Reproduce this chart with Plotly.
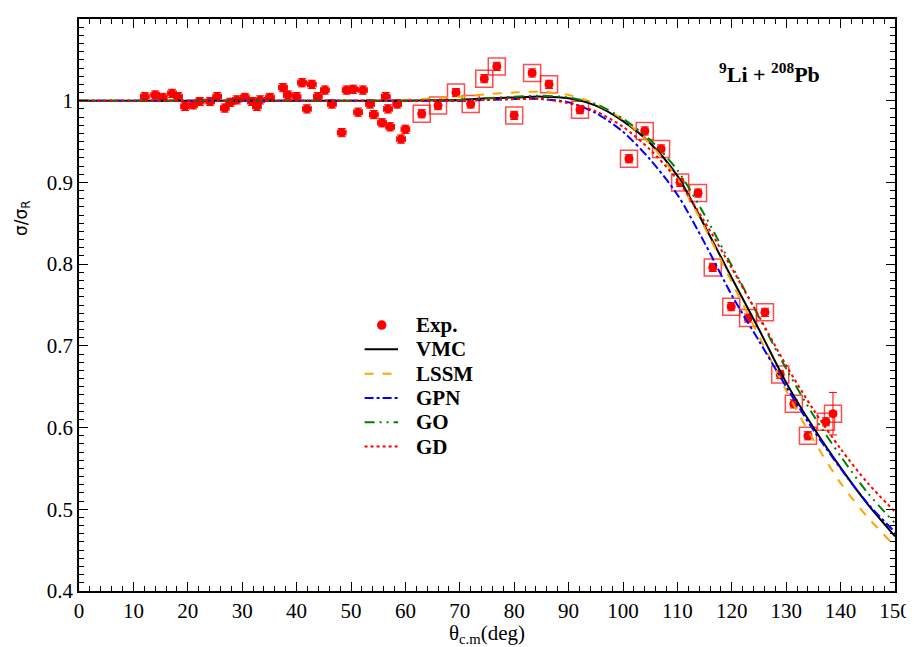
import plotly.graph_objects as go

# experimental points, small angles (error bars only)
theta_small = [12.1, 14.0, 15.4, 17.1, 18.2, 19.5, 21.0, 22.2, 24.1, 25.4, 26.8, 27.8, 29.0,
               30.5, 31.8, 32.7, 33.3, 35.1, 37.5, 38.4, 40.0, 41.0, 41.9, 42.8, 43.9, 45.2,
               46.5, 48.3, 49.2, 50.4, 51.3, 52.2, 53.5, 54.2, 55.7, 56.4, 56.8, 57.2, 58.5,
               59.2, 60.0]
sigma_small = [1.005, 1.007, 1.004, 1.009, 1.005, 0.993, 0.995, 0.999, 0.999, 1.005, 0.991, 0.998, 1.001,
               1.004, 0.999, 0.993, 1.001, 1.004, 1.016, 1.007, 1.005, 1.022, 0.990, 1.020, 1.005, 1.013,
               0.996, 0.961, 1.013, 1.014, 0.986, 1.013, 0.996, 0.983, 0.973, 1.005, 0.990, 0.968, 0.996,
               0.953, 0.965]

# experimental points, larger angles (with boxes)
theta_large = [63.0, 66.0, 69.3, 72.0, 74.5, 76.8, 80.0, 83.3, 86.4, 92.1, 101.1, 104.0, 107.0,
               110.5, 113.8, 116.5, 119.9, 123.0, 126.1, 128.9, 131.4, 134.0, 137.3, 138.6]
sigma_large = [0.984, 0.994, 1.010, 0.996, 1.027, 1.042, 0.982, 1.034, 1.020, 0.989, 0.929, 0.963, 0.941,
               0.900, 0.887, 0.796, 0.748, 0.734, 0.741, 0.665, 0.629, 0.590, 0.607, 0.617]
dsigma_large = [0.005, 0.005, 0.005, 0.005, 0.005, 0.005, 0.005, 0.005, 0.005, 0.005, 0.005, 0.005, 0.005,
                0.005, 0.005, 0.005, 0.005, 0.005, 0.005, 0.005, 0.005, 0.005, 0.005, 0.026]

# calculations
theta_calc = [0, 10, 20, 30, 40, 50, 55, 60, 65, 70, 75, 80, 85, 90, 95, 100, 105, 110, 115,
              120, 125, 130, 135, 140, 145, 150]
vmc = [1.0, 1.0, 1.0, 1.0, 1.0, 1.0, 1.0, 1.0, 1.0005, 1.001, 1.003, 1.004, 1.005, 1.003, 0.994, 0.975,
       0.948, 0.908, 0.847, 0.783, 0.720, 0.655, 0.600, 0.551, 0.506, 0.467]
lssm = [1.0, 1.0, 1.0, 1.0, 1.0, 1.0, 1.0, 1.001, 1.003, 1.005, 1.008, 1.010, 1.011, 1.007, 0.996, 0.977,
        0.947, 0.905, 0.845, 0.778, 0.712, 0.645, 0.585, 0.532, 0.490, 0.455]
gpn = [1.0, 1.0, 1.0, 1.0, 1.0, 1.0, 1.0, 1.0, 1.0, 1.0, 1.001, 1.002, 1.002, 0.998, 0.985, 0.962,
       0.928, 0.885, 0.826, 0.762, 0.706, 0.650, 0.597, 0.550, 0.507, 0.472]
gom = [1.0, 1.0, 1.0, 1.0, 1.0, 1.0, 1.0, 1.0, 1.0005, 1.001, 1.003, 1.005, 1.006, 1.004, 0.996, 0.978,
       0.952, 0.915, 0.860, 0.798, 0.735, 0.672, 0.615, 0.565, 0.520, 0.483]
gd = [1.0, 1.0, 1.0, 1.0, 1.0, 1.0, 1.0, 1.0, 1.0, 1.0, 1.001, 1.002, 1.002, 0.997, 0.987, 0.968,
      0.940, 0.903, 0.852, 0.795, 0.736, 0.676, 0.622, 0.574, 0.532, 0.497]

y_ticks = [0.4, 0.5, 0.6, 0.7, 0.8, 0.9, 1.0, 1.1]
y_ticklabels = ["0.4", "0.5", "0.6", "0.7", "0.8", "0.9", "1", "1.1"]

FONT = "Liberation Serif, Times New Roman, serif"

fig = go.Figure()

# boxes around large-angle points
fig.add_trace(go.Scatter(x=theta_large, y=sigma_large, mode="markers", showlegend=False,
                         marker=dict(symbol="square-open", size=17, color="rgba(255,0,0,0.7)",
                                     line=dict(width=1.5)),
                         hoverinfo="skip"))
fig.add_trace(go.Scatter(x=theta_large, y=sigma_large, mode="markers", showlegend=False,
                         marker=dict(symbol="circle", size=9, color="red"),
                         error_y=dict(type="data", array=dsigma_large, color="red", thickness=1, width=4),
                         error_x=dict(type="constant", value=0.6, color="red", thickness=1, width=3)))
fig.add_trace(go.Scatter(x=theta_small, y=sigma_small, mode="markers", name="Exp.", showlegend=False,
                         marker=dict(symbol="circle", size=9, color="red"),
                         error_y=dict(type="constant", value=0.005, color="red", thickness=1, width=4),
                         error_x=dict(type="constant", value=0.8, color="red", thickness=1, width=3)))

curves = [("VMC", vmc, "black", "solid"),
          ("LSSM", lssm, "#FFA500", "dash"),
          ("GPN", gpn, "#0000FF", "dashdot"),
          ("GO", gom, "#008000", "10px,5px,2px,5px,2px,5px"),
          ("GD", gd, "#FF0000", "dot")]
for name, ys, col, dash in curves:
    fig.add_trace(go.Scatter(x=theta_calc, y=ys, mode="lines", name=name, showlegend=False,
                             line=dict(color=col, width=2, dash=dash, shape="spline", smoothing=0.8)))

# hand-made legend (xmgrace style spacing)
leg_x0, leg_x1, leg_tx = 0.350, 0.391, 0.410
leg_y0, leg_dy = 0.465, 0.0425
fig.add_shape(type="circle", xref="paper", yref="paper",
              x0=0.371 - 0.0058, x1=0.371 + 0.0058, y0=leg_y0 - 0.0083, y1=leg_y0 + 0.0083,
              fillcolor="red", line=dict(color="red", width=0))
fig.add_annotation(x=leg_tx, y=leg_y0, xref="paper", yref="paper", xanchor="left", yanchor="middle",
                   text="<b>Exp.</b>", showarrow=False, font=dict(family=FONT, size=21, color="black"))
for i, (name, ys, col, dash) in enumerate(curves):
    yy = leg_y0 - (i + 1) * leg_dy
    fig.add_shape(type="line", xref="paper", yref="paper", x0=leg_x0, x1=leg_x1, y0=yy, y1=yy,
                  line=dict(color=col, width=2, dash=dash))
    fig.add_annotation(x=leg_tx, y=yy, xref="paper", yref="paper", xanchor="left", yanchor="middle",
                       text="<b>%s</b>" % name, showarrow=False,
                       font=dict(family=FONT, size=21, color="black"))

fig.add_annotation(x=0.91, y=0.905, xref="paper", yref="paper", xanchor="right", yanchor="middle",
                   text="<b><sup>9</sup>Li + <sup>208</sup>Pb</b>", showarrow=False,
                   font=dict(family=FONT, size=22, color="black"))

# y title sits above the middle of the axis in the original
fig.add_annotation(x=-0.07, y=0.652, xref="paper", yref="paper", xanchor="center", yanchor="middle",
                   text="σ/σ<sub>R</sub>", textangle=-90, showarrow=False,
                   font=dict(family="DejaVu Sans, sans-serif", size=17, color="black"))

axis_common = dict(showline=True, linecolor="black", linewidth=1.5, mirror="allticks",
                   ticks="inside", ticklen=9, tickwidth=1, tickcolor="black",
                   showgrid=False, zeroline=False, automargin=False,
                   tickfont=dict(family=FONT, size=21, color="black"))

fig.update_xaxes(range=[0, 150], dtick=10, tick0=0,
                 minor=dict(dtick=2, ticks="inside", ticklen=5, tickcolor="black", showgrid=False),
                 title=dict(text="θ<sub>c.m</sub>(deg)", font=dict(family=FONT, size=21, color="black"),
                            standoff=0),
                 **axis_common)
fig.update_yaxes(range=[0.4, 1.1], tickmode="array", tickvals=y_ticks, ticktext=y_ticklabels,
                 minor=dict(dtick=0.01, ticks="inside", ticklen=5, tickcolor="black", showgrid=False),
                 **axis_common)

# page body has an 8px margin, so the figure is a bit smaller than the window
fig.update_layout(width=906, height=639, margin=dict(l=71, r=19, t=11, b=56),
                  paper_bgcolor="white", plot_bgcolor="white", showlegend=False)

fig.write_html("out.html")
